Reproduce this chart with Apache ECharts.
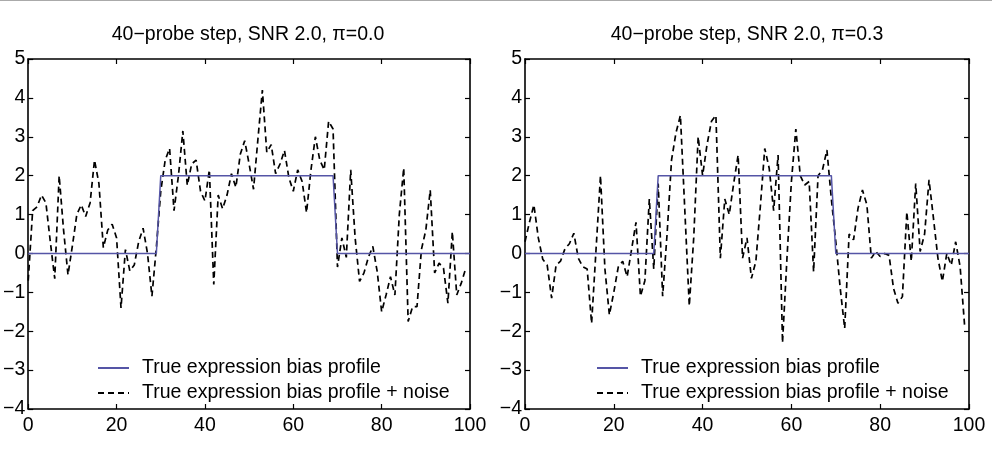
<!DOCTYPE html>
<html>
<head>
<meta charset="utf-8">
<script src="https://cdn.jsdelivr.net/npm/echarts@6/dist/echarts.min.js"></script>
<style>
  html, body { margin: 0; padding: 0; background: #fff; }
  #chart { width: 992px; height: 452px; }
</style>
</head>
<body>
<div id="chart"></div>
<script>
// titles of the two panels
const panelTitles = ["40\u2212probe step, SNR 2.0, \u03c0=0.0", "40\u2212probe step, SNR 2.0, \u03c0=0.3"];
const legendNames = ["True expression bias profile", "True expression bias profile + noise"];

// true profile breakpoints (probe index -> bias)
const profileX = [0, 29, 30, 69, 70, 100];
const profileY = [0, 0, 2, 2, 0, 0];

// noisy profile, probes 0..99
const noiseLeft = [
  -0.7, 1.1, 1.2, 1.5, 1.3, 0.3, -0.65, 2.0, 0.6, -0.55,
  0.2, 1.0, 1.25, 0.95, 1.3, 2.4, 1.8, 0.15, 0.6, 0.75,
  0.4, -1.4, 0.1, -0.45, -0.3, 0.3, 0.65, 0.0, -1.1, 0.15,
  1.6, 2.4, 2.7, 1.1, 2.0, 3.15, 1.75, 2.3, 2.4, 1.6,
  1.35, 2.15, -0.8, 1.5, 1.15, 1.5, 2.05, 1.7, 2.55, 2.9,
  2.3, 1.65, 2.95, 4.2, 2.6, 2.8, 2.05, 2.3, 2.65, 1.95,
  1.6, 2.15, 1.85, 1.05, 2.15, 3.0, 2.4, 2.15, 3.4, 3.2,
  -0.35, 0.4, -0.1, 2.15, 0.4, -0.72, -0.5, -0.1, 0.18, -0.47,
  -1.5, -1.07, -0.6, -1.07, 1.0, 2.2, -1.75, -1.37, -1.37, 0.1,
  0.6, 1.63, -0.5, -0.25, -0.38, -1.28, 0.56, -1.07, -0.77, -0.4
];
const noiseRight = [
  0.3, 0.8, 1.25, 0.4, -0.15, -0.3, -1.15, -0.3, -0.2, 0.12,
  0.25, 0.52, -0.12, -0.34, -0.4, -1.8, 0.1, 2.0, -0.4, -1.58,
  -1.0, -0.35, -0.2, -0.6, 0.1, 0.8, -1.1, -0.7, 1.4, -0.4,
  1.8, -1.1, 0.5, 2.4, 3.1, 3.55, 1.1, -1.35, 0.4, 3.0,
  2.0, 2.8, 3.4, 3.55, -0.12, 1.4, 1.0, 1.8, 2.53, -0.12,
  0.4, -0.64, -0.2, 1.2, 2.7, 2.19, 1.1, 2.53, -2.3, -0.12,
  1.85, 3.2, 2.0, 1.76, 1.85, -0.47, 2.0, 2.15, 2.66, 1.4,
  0.3, -0.9, -1.93, 0.5, 0.35, 1.16, 1.63, 1.25, -0.12, 0.05,
  -0.08, 0.0, -0.05, -0.9, -1.28, -1.11, 1.07, -0.2, 1.8, 0.05,
  0.5, 1.89, 0.9, -0.12, -0.72, 0.0, -0.3, 0.3, -0.34, -1.84
];

const FONT = "Liberation Sans, Arial, Helvetica, sans-serif";
const TEXT_COLOR = "#000";
const PROFILE_COLOR = "#5555a6";
const FONT_SIZE = 19.5;

let myChart = echarts.init(document.getElementById("chart"), null, { renderer: "canvas" });

// grids: [left, right] in px
const grids = [
  { left: 26, right: 522, top: 59, bottom: 43 },
  { left: 525, right: 23, top: 59, bottom: 43 },
];

function minusFmt(v) {
  return String(v).replace("-", "\u2212");
}

function makeXAxis(gridIndex, position, showLabel) {
  return {
    gridIndex: gridIndex,
    type: "value",
    position: position,
    min: 0,
    max: 100,
    interval: 20,
    axisLine: { show: true, onZero: false, lineStyle: { color: "#000", width: 1.6 } },
    axisTick: { show: true, inside: true, length: 5, lineStyle: { color: "#000", width: 1.2 } },
    axisLabel: {
      show: showLabel,
      margin: 7,
      color: TEXT_COLOR,
      fontFamily: FONT,
      fontSize: FONT_SIZE,
      formatter: minusFmt,
    },
    splitLine: { show: false },
  };
}

function makeYAxis(gridIndex, position, showLabel) {
  return {
    gridIndex: gridIndex,
    type: "value",
    position: position,
    min: -4,
    max: 5,
    interval: 1,
    axisLine: { show: true, onZero: false, lineStyle: { color: "#000", width: 1.6 } },
    axisTick: { show: true, inside: true, length: 5, lineStyle: { color: "#000", width: 1.2 } },
    axisLabel: {
      show: showLabel,
      margin: 3,
      color: TEXT_COLOR,
      fontFamily: FONT,
      fontSize: FONT_SIZE,
      formatter: minusFmt,
    },
    splitLine: { show: false },
  };
}

const profileData = profileX.map((x, i) => [x, profileY[i]]);
const leftData = noiseLeft.map((v, i) => [i, v]);
const rightData = noiseRight.map((v, i) => [i, v]);

function profileSeries(axisIdx) {
  return {
    name: legendNames[0],
    type: "line",
    xAxisIndex: axisIdx,
    yAxisIndex: axisIdx,
    data: profileData,
    symbol: "none",
    silent: true,
    lineStyle: { color: PROFILE_COLOR, width: 1.5 },
    itemStyle: { color: PROFILE_COLOR },
    z: 3,
  };
}

function noiseSeries(axisIdx, data) {
  return {
    name: legendNames[1],
    type: "line",
    xAxisIndex: axisIdx,
    yAxisIndex: axisIdx,
    data: data,
    symbol: "none",
    silent: true,
    lineStyle: { color: "#000", width: 1.7, type: [6, 4] },
    itemStyle: { color: "#000" },
    z: 2,
  };
}

function makeLegend(left) {
  return {
    orient: "vertical",
    left: left,
    top: 358,
    padding: 0,
    itemWidth: 31,
    itemHeight: 20,
    itemGap: 5,
    selectedMode: false,
    data: legendNames,
    // hide the symbol dot, keep only the line sample
    itemStyle: { opacity: 0 },
    textStyle: {
      color: TEXT_COLOR,
      fontFamily: FONT,
      fontSize: FONT_SIZE,
      padding: [0, 0, 0, 8],
    },
  };
}

let option = {
  animation: false,
  backgroundColor: "#fff",
  title: [
    {
      text: panelTitles[0],
      left: 248,
      top: 25,
      textAlign: "center",
      padding: 0,
      textStyle: { color: TEXT_COLOR, fontFamily: FONT, fontSize: FONT_SIZE, fontWeight: "normal" },
    },
    {
      text: panelTitles[1],
      left: 747,
      top: 25,
      textAlign: "center",
      padding: 0,
      textStyle: { color: TEXT_COLOR, fontFamily: FONT, fontSize: FONT_SIZE, fontWeight: "normal" },
    },
  ],
  grid: grids,
  legend: [makeLegend(97), makeLegend(596)],
  xAxis: [
    makeXAxis(0, "bottom", true),
    makeXAxis(1, "bottom", true),
    makeXAxis(0, "top", false),
    makeXAxis(1, "top", false),
  ],
  yAxis: [
    makeYAxis(0, "left", true),
    makeYAxis(1, "left", true),
    makeYAxis(0, "right", false),
    makeYAxis(1, "right", false),
  ],
  series: [
    profileSeries(0),
    noiseSeries(0, leftData),
    profileSeries(1),
    noiseSeries(1, rightData),
  ],
  // thin gray rule along the top edge of the figure
  graphic: [
    {
      type: "line",
      shape: { x1: 0, y1: 0.5, x2: 992, y2: 0.5 },
      style: { stroke: "#aaa", lineWidth: 1 },
      silent: true,
    },
  ],
};

option && myChart.setOption(option);
</script>
</body>
</html>
